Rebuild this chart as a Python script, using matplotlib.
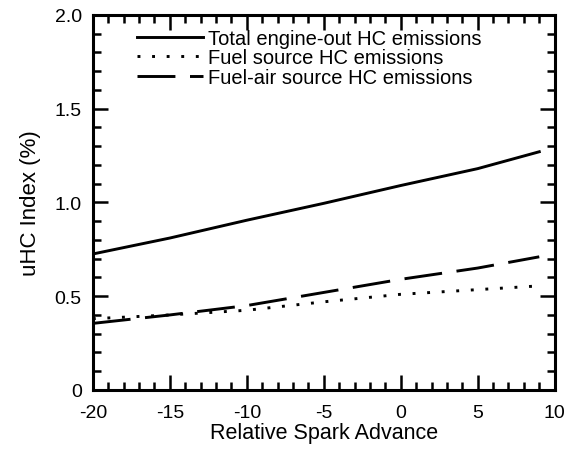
import numpy as np
import matplotlib.pyplot as plt
from matplotlib.ticker import MultipleLocator

plt.rcParams['font.family'] = ['Liberation Sans', 'DejaVu Sans']
plt.rcParams['axes.unicode_minus'] = False

# values
spark = [-20, -15, -10, -5, 0, 5, 9]
total_hc = [0.725, 0.81, 0.905, 0.995, 1.09, 1.18, 1.27]
fuel_hc = [0.38, 0.40, 0.425, 0.47, 0.51, 0.535, 0.555]
fuel_air_hc = [0.355, 0.40, 0.45, 0.52, 0.59, 0.65, 0.71]

fig = plt.figure(figsize=(5.73, 4.52), dpi=100)
ax = fig.add_axes([0.162, 0.135, 0.806, 0.830])

lw = 2.1
ax.plot(spark, total_hc, color='black', lw=lw, ls='-', label='Total engine-out HC emissions')
ax.plot(spark, fuel_hc, color='black', lw=lw, ls=(0, (1, 4)), label='Fuel source HC emissions')
ax.plot(spark, fuel_air_hc, color='black', lw=lw, ls=(0, (13, 5)), label='Fuel-air source HC emissions')

ax.set_xlim(-20, 10)
ax.set_ylim(0, 2.0)
ax.xaxis.set_major_locator(MultipleLocator(5))
ax.xaxis.set_minor_locator(MultipleLocator(1))
ax.yaxis.set_minor_locator(MultipleLocator(0.1))
ax.set_yticks([0, 0.5, 1.0, 1.5, 2.0])
ax.set_yticklabels(['0', '0.5', '1.0', '1.5', '2.0'])

ax.tick_params(which='both', direction='in', top=True, right=True, width=1.8,
               labelsize=14)
ax.tick_params(axis='x', which='both', pad=10)
ax.tick_params(axis='y', which='both', pad=8)
ax.tick_params(which='major', length=11)
ax.tick_params(which='minor', length=6)
for s in ax.spines.values():
    s.set_linewidth(2.2)

ax.set_xlabel('Relative Spark Advance', fontsize=15.5, labelpad=1)
ax.set_ylabel('uHC Index (%)', fontsize=16, labelpad=10)

ax.legend(loc='upper left', bbox_to_anchor=(0.095, 0.963), frameon=False, fontsize=14.5,
          handlelength=3.3, handletextpad=0.25, labelspacing=0.03,
          borderpad=0, borderaxespad=0)

fig.savefig('out.png', dpi=100)
